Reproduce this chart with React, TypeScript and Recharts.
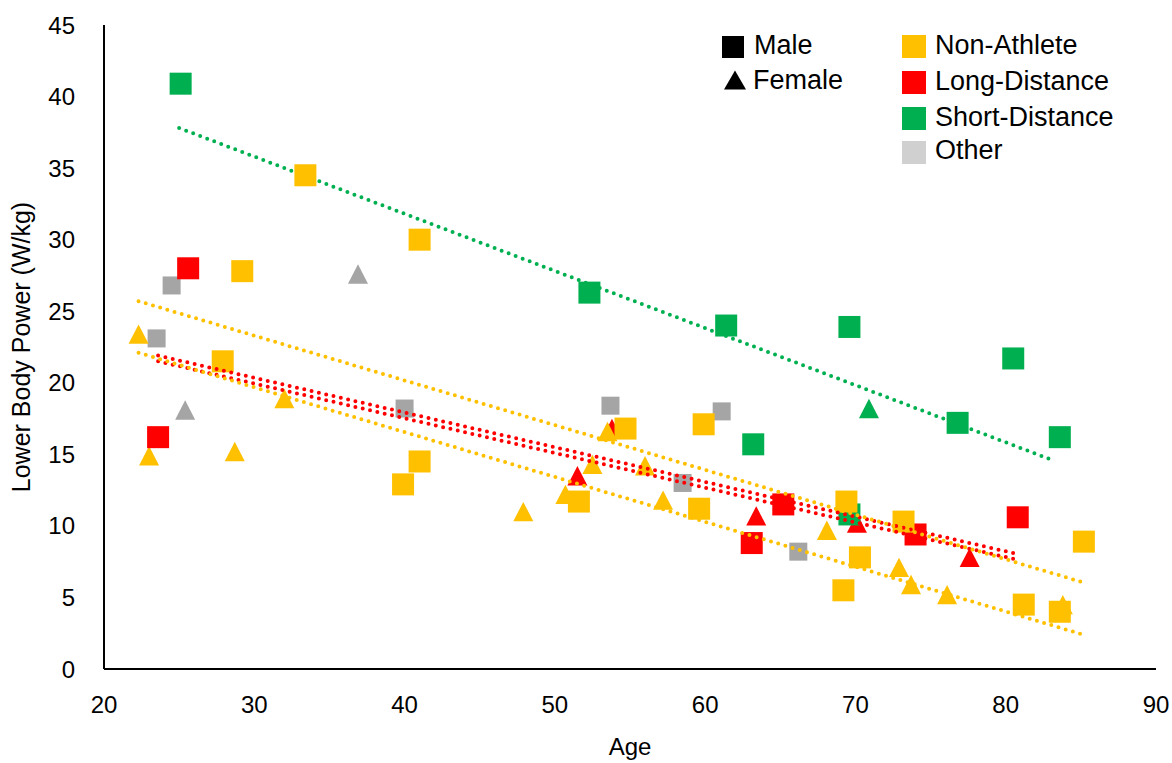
import { ScatterChart, Scatter, XAxis, YAxis, Label } from 'recharts';

const X_TICKS = [20, 30, 40, 50, 60, 70, 80, 90];
const Y_TICKS = [0, 5, 10, 15, 20, 25, 30, 35, 40, 45];

// markers: age, lower body power (W/kg)
const nonAthleteMale = [
  { age: 33.4, power: 34.5 }, { age: 41.0, power: 30.0 }, { age: 29.2, power: 27.8 },
  { age: 27.9, power: 21.5 }, { age: 41.0, power: 14.5 }, { age: 39.9, power: 12.9 },
  { age: 59.9, power: 17.1 }, { age: 54.7, power: 16.8 }, { age: 51.6, power: 11.7 },
  { age: 59.6, power: 11.2 }, { age: 69.4, power: 11.7 }, { age: 70.3, power: 7.8 },
  { age: 69.2, power: 5.5 }, { age: 73.2, power: 10.3 }, { age: 85.2, power: 8.9 },
  { age: 81.2, power: 4.5 }, { age: 83.6, power: 4.0 },
];
const nonAthleteFemale = [
  { age: 22.3, power: 23.4 }, { age: 23.0, power: 14.9 }, { age: 28.7, power: 15.2 },
  { age: 32.0, power: 18.9 }, { age: 53.5, power: 16.6 }, { age: 52.5, power: 14.3 },
  { age: 56.0, power: 14.2 }, { age: 50.7, power: 12.2 }, { age: 47.9, power: 11.0 },
  { age: 57.2, power: 11.8 }, { age: 68.1, power: 9.7 }, { age: 72.9, power: 7.1 },
  { age: 73.7, power: 5.9 }, { age: 76.1, power: 5.2 }, { age: 83.8, power: 4.5 },
];
const longMale = [
  { age: 25.6, power: 28.0 }, { age: 23.6, power: 16.2 }, { age: 65.2, power: 11.5 },
  { age: 63.1, power: 8.8 }, { age: 74.0, power: 9.4 }, { age: 80.8, power: 10.6 },
];
const longFemale = [
  { age: 53.8, power: 16.8 }, { age: 51.5, power: 13.5 }, { age: 63.4, power: 10.7 },
  { age: 70.1, power: 10.2 }, { age: 77.6, power: 7.8 },
];
const shortMale = [
  { age: 25.1, power: 40.9 }, { age: 52.3, power: 26.3 }, { age: 61.4, power: 24.0 },
  { age: 69.6, power: 23.9 }, { age: 63.2, power: 15.7 }, { age: 69.6, power: 10.8 },
  { age: 80.5, power: 21.7 }, { age: 76.8, power: 17.2 }, { age: 83.6, power: 16.2 },
];
const shortFemale = [{ age: 70.9, power: 18.2 }];
const otherMale = [
  { age: 24.5, power: 26.8 }, { age: 23.5, power: 23.1 }, { age: 40.0, power: 18.2 },
  { age: 53.7, power: 18.4 }, { age: 61.1, power: 18.0 }, { age: 58.5, power: 13.0 },
  { age: 66.2, power: 8.2 },
];
const otherFemale = [{ age: 36.9, power: 27.6 }, { age: 25.4, power: 18.1 }];

// trend line end points
const shortTrend = [{ age: 25.0, power: 37.8 }, { age: 83.1, power: 14.6 }];
const nonAthleteTrendA = [{ age: 22.3, power: 25.7 }, { age: 85.0, power: 6.1 }];
const nonAthleteTrendB = [{ age: 22.3, power: 22.1 }, { age: 85.0, power: 2.45 }];
const longTrendA = [{ age: 23.6, power: 21.9 }, { age: 80.5, power: 8.1 }];
const longTrendB = [{ age: 23.6, power: 21.5 }, { age: 80.5, power: 7.7 }];

const GENDER_LEGEND = ['Male', 'Female'];
const GROUP_LEGEND = ['Non-Athlete', 'Long-Distance', 'Short-Distance', 'Other'];

const YELLOW = '#FFC000';
const RED = '#FF0000';
const GREEN = '#00B050';
const GRAY = '#A5A5A5';
const GROUP_COLORS = [YELLOW, RED, GREEN, '#D0D0D0'];
const FONT = '"Liberation Sans", Arial, sans-serif';

const square = (color: string, side: number) => (props: any) => {
  const { cx, cy } = props;
  return <rect x={cx - side / 2} y={cy - side / 2} width={side} height={side} fill={color} />;
};

const triangle = (color: string) => (props: any) => {
  const { cx, cy } = props;
  return (
    <path
      d={`M${cx},${cy - 9.7} L${cx + 10},${cy + 9.7} L${cx - 10},${cy + 9.7} Z`}
      fill={color}
    />
  );
};

const noMarker = () => <g />;

const dotted = (color: string) => ({
  stroke: color,
  strokeWidth: 4,
  strokeDasharray: '0 7.5',
  strokeLinecap: 'round' as const,
});

function Legend() {
  return (
    <svg
      width={1164}
      height={200}
      style={{ position: 'absolute', left: 0, top: 0, pointerEvents: 'none' }}
      fontFamily={FONT}
      fontSize={27}
    >
      <rect x={714} y={28} width={22} height={22} fill="#000" />
      <text x={746} y={46}>{GENDER_LEGEND[0]}</text>
      <path d="M727,62.5 L738,81.5 L716,81.5 Z" fill="#000" />
      <text x={745} y={81}>{GENDER_LEGEND[1]}</text>
      {GROUP_LEGEND.map((name, i) => {
        const top = [27, 63, 99, 133][i];
        const base = [46, 82, 118, 151][i];
        return (
          <g key={name}>
            <rect x={894} y={top} width={24} height={23} fill={GROUP_COLORS[i]} />
            <text x={927} y={base}>{name}</text>
          </g>
        );
      })}
    </svg>
  );
}

export default function App() {
  return (
    <div style={{ padding: '8px 0 0 8px', width: 1164, height: 755 }}>
      <style>{'body{margin:0;overflow:hidden}.recharts-surface{overflow:visible}'}</style>
      <div style={{ position: 'relative', width: 1164, height: 755 }}>
        <ScatterChart width={1164} height={755} margin={{ top: 17, right: 16, bottom: 0, left: 0 }}>
          <XAxis
            type="number"
            dataKey="age"
            domain={[20, 90]}
            ticks={X_TICKS}
            allowDataOverflow
            height={94}
            tickLine={false}
            tickSize={0}
            tickMargin={27}
            axisLine={{ stroke: '#000', strokeWidth: 2 }}
            tick={{ fill: '#000', fontSize: 24, fontFamily: FONT }}
          >
            <Label
              content={(p: any) => (
                <text
                  x={p.viewBox.x + p.viewBox.width / 2}
                  y={p.viewBox.y + 86}
                  textAnchor="middle"
                  fontSize={24}
                  fontFamily={FONT}
                  fill="#000"
                >
                  Age
                </text>
              )}
            />
          </XAxis>
          <YAxis
            type="number"
            dataKey="power"
            domain={[0, 45]}
            ticks={Y_TICKS}
            allowDataOverflow
            width={96}
            tickLine={false}
            tickSize={0}
            tickMargin={29}
            axisLine={{ stroke: '#000', strokeWidth: 2 }}
            tick={{ fill: '#000', fontSize: 24, fontFamily: FONT }}
          >
            <Label
              content={(p: any) => {
                const x = p.viewBox.x + 22;
                const y = p.viewBox.y + p.viewBox.height / 2;
                return (
                  <text
                    x={x}
                    y={y}
                    transform={`rotate(-90 ${x} ${y})`}
                    textAnchor="middle"
                    fontSize={25}
                    fontFamily={FONT}
                    fill="#000"
                  >
                    Lower Body Power (W/kg)
                  </text>
                );
              }}
            />
          </YAxis>

          <Scatter data={otherMale} shape={square(GRAY, 18)} isAnimationActive={false} />
          <Scatter data={otherFemale} shape={triangle(GRAY)} isAnimationActive={false} />
          <Scatter data={longFemale} shape={triangle(RED)} isAnimationActive={false} />
          <Scatter data={nonAthleteFemale} shape={triangle(YELLOW)} isAnimationActive={false} />
          <Scatter data={shortMale} shape={square(GREEN, 22)} isAnimationActive={false} />
          <Scatter data={shortFemale} shape={triangle(GREEN)} isAnimationActive={false} />
          <Scatter data={shortTrend} line={dotted(GREEN)} lineType="joint" shape={noMarker} isAnimationActive={false} />
          <Scatter data={longMale} shape={square(RED, 22)} isAnimationActive={false} />
          <Scatter data={nonAthleteMale} shape={square(YELLOW, 22)} isAnimationActive={false} />
          <Scatter data={longTrendA} line={dotted(RED)} lineType="joint" shape={noMarker} isAnimationActive={false} />
          <Scatter data={longTrendB} line={dotted(RED)} lineType="joint" shape={noMarker} isAnimationActive={false} />
          <Scatter data={nonAthleteTrendA} line={dotted(YELLOW)} lineType="joint" shape={noMarker} isAnimationActive={false} />
          <Scatter data={nonAthleteTrendB} line={dotted(YELLOW)} lineType="joint" shape={noMarker} isAnimationActive={false} />
        </ScatterChart>
        <Legend />
      </div>
    </div>
  );
}
